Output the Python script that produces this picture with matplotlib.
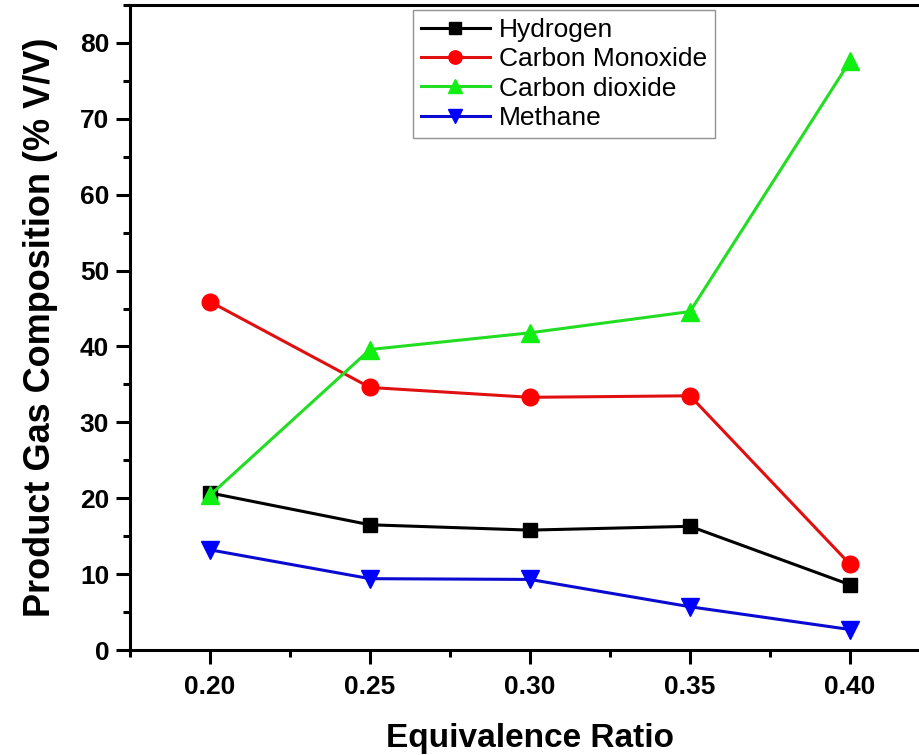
import matplotlib
matplotlib.use("Agg")
import matplotlib.pyplot as plt
from matplotlib.ticker import MultipleLocator

plt.rcParams['font.family'] = ['Liberation Sans', 'DejaVu Sans']

ratio = [0.20, 0.25, 0.30, 0.35, 0.40]
hydrogen = [20.7, 16.5, 15.8, 16.3, 8.6]
carbon_monoxide = [45.9, 34.6, 33.3, 33.5, 11.3]
carbon_dioxide = [20.4, 39.6, 41.8, 44.6, 77.6]
methane = [13.2, 9.4, 9.3, 5.7, 2.7]

fig = plt.figure(figsize=(9.19, 7.55), dpi=100)
# axes runs off the right edge of the picture, like the original
ax = fig.add_axes([130 / 919, 105 / 755, 800 / 919, 645 / 755])

ax.plot(ratio, hydrogen, color='black', lw=2.2, marker='s', ms=10,
        mec='black', label='Hydrogen')
ax.plot(ratio, carbon_monoxide, color='#e01010', lw=2.2, marker='o', ms=12,
        mfc='#ff0000', mec='#ff0000', label='Carbon Monoxide')
ax.plot(ratio, carbon_dioxide, color='#22dd22', lw=2.2, marker='^', ms=13,
        mfc='#11ee11', mec='#11ee11', label='Carbon dioxide')
ax.plot(ratio, methane, color='#0a0ad0', lw=2.2, marker='v', ms=13,
        mfc='#0000ff', mec='#0000ff', label='Methane')

ax.set_xlim(0.175, 0.425)
ax.set_ylim(0, 85)
ax.xaxis.set_minor_locator(MultipleLocator(0.025))
ax.yaxis.set_major_locator(MultipleLocator(10))
ax.yaxis.set_minor_locator(MultipleLocator(5))
ax.set_xticks(ratio)
ax.set_xticklabels(['%.2f' % r for r in ratio])

for s in ax.spines.values():
    s.set_linewidth(2.2)
ax.tick_params(which='major', direction='out', length=10, width=2.2,
               labelsize=19)
ax.tick_params(axis='y', which='major', pad=5)
ax.tick_params(axis='x', which='major', pad=8)
ax.tick_params(which='minor', direction='out', length=5, width=2.2)
for lab in ax.get_xticklabels() + ax.get_yticklabels():
    lab.set_fontweight('bold')

ax.set_xlabel('Equivalence Ratio', fontsize=24, fontweight='bold', labelpad=17)
ax.set_ylabel('Product Gas Composition (% V/V)', fontsize=26,
              fontweight='bold', labelpad=16)

leg = ax.legend(loc='upper left', bbox_to_anchor=(0.354, 0.992), fontsize=19,
                frameon=True, fancybox=False, handlelength=2.6,
                borderpad=0.3, labelspacing=0.2, handletextpad=0.35,
                borderaxespad=0, markerscale=0.8)
leg.get_frame().set_edgecolor('#777777')
leg.get_frame().set_linewidth(1.0)

fig.savefig('out.png', dpi=100)
